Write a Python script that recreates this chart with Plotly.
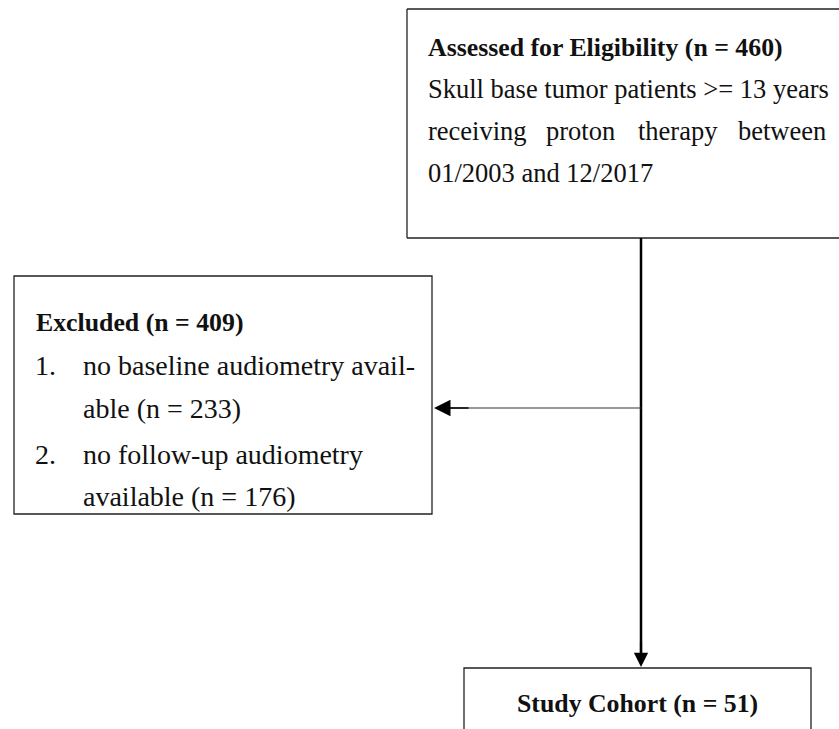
import plotly.graph_objects as go

W, H = 839, 729
PAD = 30  # draw area continues past the right page edge (top box is open there)
FONT = "Liberation Serif"
FS = 26.5
FS_ITEM = 28
FSB = 25.8

# ---- content ----
top_title = "Assessed for Eligibility (n = 460)"
top_lines = ["Skull base tumor patients >= 13 years",
             "receiving proton therapy between",
             "01/2003 and 12/2017"]
excl_title = "Excluded (n = 409)"
excl_nums = ["1.", "2."]
excl_items = [["no baseline audiometry avail-", "able (n = 233)"],
              ["no follow-up audiometry", "available (n = 176)"]]
cohort_title = "Study Cohort (n = 51)"

# ---- layout geometry (pixels) ----
excl_box = (14, 276, 432, 514)
cohort_box = (464, 668, 811, 760)
main_x = 641

fig = go.Figure()
shapes = []
def seg(x0, y0, x1, y1, color="#222", width=1.3):
    shapes.append(dict(type="line", x0=x0, y0=y0, x1=x1, y1=y1, xref="x", yref="y",
                       line=dict(color=color, width=width)))

# top box (open on the right: it runs past the page edge)
seg(407, 9, W + PAD, 9)
seg(407, 9, 407, 238)
seg(407, 238, W + PAD, 238)
for (x0, y0, x1, y1) in [excl_box, cohort_box]:
    shapes.append(dict(type="rect", x0=x0, y0=y0, x1=x1, y1=y1, xref="x", yref="y",
                       line=dict(color="#222", width=1.3), fillcolor="rgba(0,0,0,0)"))
seg(main_x, 238, main_x, 655, color="black", width=2.5)
seg(main_x, 408, 445, 408, color="#333", width=1.2)

ann = []
def txt(x, y, s, bold=False, anchor="left", size=None):
    ann.append(dict(x=x, y=y, xref="x", yref="y", text=("<b>%s</b>" % s) if bold else s,
                    showarrow=False, xanchor=anchor, yanchor="middle",
                    font=dict(family=FONT, size=size or (FSB if bold else FS), color="#111")))

def justified(xs, y, line):
    for wx, w in zip(xs, line.split()):
        txt(wx, y, w)

txt(426, 47, top_title, bold=True)
txt(426, 89, top_lines[0])
justified([426, 544, 636, 736], 131, top_lines[1])
txt(426, 173, top_lines[2])

txt(34, 322, excl_title, bold=True)
ys = [[365, 408], [454, 496]]
for num, items, yy in zip(excl_nums, excl_items, ys):
    txt(33, yy[0], num, size=FS_ITEM)
    txt(81, yy[0], items[0], size=FS_ITEM)
    txt(81, yy[1], items[1], size=FS_ITEM)

txt(637, 703, cohort_title, bold=True, anchor="center")

# arrowheads
ann.append(dict(x=main_x, y=667, ax=main_x, ay=640, xref="x", yref="y", axref="x", ayref="y",
                text="", showarrow=True, arrowhead=2, arrowsize=1.3, arrowwidth=2.2, arrowcolor="black"))
ann.append(dict(x=434, y=408, ax=470, ay=408, xref="x", yref="y", axref="x", ayref="y",
                text="", showarrow=True, arrowhead=2, arrowsize=2.2, arrowwidth=1.5, arrowcolor="black"))

fig.update_layout(width=W + PAD, height=H, margin=dict(l=0, r=0, t=0, b=0),
                  paper_bgcolor="white", plot_bgcolor="white",
                  xaxis=dict(range=[0, W + PAD], visible=False, fixedrange=True),
                  yaxis=dict(range=[H, 0], visible=False, fixedrange=True),
                  shapes=shapes, annotations=ann, showlegend=False)
fig.write_html("out.html", config={"displayModeBar": False},
               post_script="document.body.style.margin='0';document.body.style.overflow='hidden';")
